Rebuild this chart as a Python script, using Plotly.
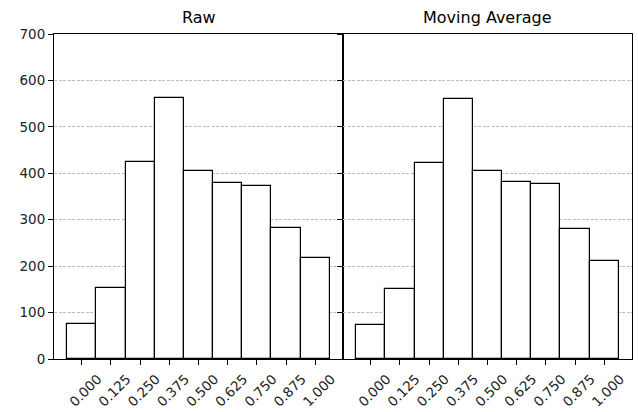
import plotly.graph_objects as go
from plotly.subplots import make_subplots

# Histogram bin centres (bin width 0.125) and counts per panel
bin_centers = [0.0, 0.125, 0.25, 0.375, 0.5, 0.625, 0.75, 0.875, 1.0]
tick_labels = ["0.000", "0.125", "0.250", "0.375", "0.500", "0.625", "0.750", "0.875", "1.000"]
raw_counts = [75, 152, 424, 562, 406, 379, 373, 282, 217]
ma_counts = [74, 151, 423, 559, 406, 382, 378, 281, 212]
panel_titles = ["Raw", "Moving Average"]
bin_width = 0.125

W, H = 638, 412
L, R, T, B = 54, 6, 34, 53

fig = make_subplots(rows=1, cols=2, shared_yaxes=True, horizontal_spacing=0)

for i, counts in enumerate([raw_counts, ma_counts], start=1):
    fig.add_trace(
        go.Bar(
            x=bin_centers,
            y=counts,
            width=[bin_width] * len(bin_centers),
            marker=dict(color="white", line=dict(color="black", width=1.2)),
            showlegend=False,
        ),
        row=1, col=i,
    )

font = dict(family="DejaVu Sans", size=13.5, color="#222222")
xr = [-0.11875, 1.11875]
for i in (1, 2):
    fig.update_xaxes(
        range=xr, tickmode="array", tickvals=bin_centers, ticktext=tick_labels,
        tickangle=-45, ticks="outside", ticklen=5, tickwidth=1, tickcolor="black",
        ticklabelshift=16, ticklabelstandoff=1, automargin=False,
        showline=True, linecolor="black", linewidth=1, mirror=True,
        showgrid=False, zeroline=False, tickfont=font, row=1, col=i,
    )
    fig.update_yaxes(
        range=[0, 700], tickmode="linear", dtick=100, ticks="outside",
        ticklen=5, tickwidth=1, tickcolor="black", automargin=False,
        showline=True, linecolor="black", linewidth=1, mirror=True,
        showgrid=True, gridcolor="#bdbdbd", griddash="3px,1.5px", gridwidth=1,
        zeroline=False, tickfont=font, showticklabels=(i == 1), row=1, col=i,
    )

split = (343 - L) / (W - L - R)
fig.update_xaxes(domain=[0, split], row=1, col=1)
fig.update_xaxes(domain=[split, 1], row=1, col=2)

for title, xc in zip(panel_titles, [split / 2, (1 + split) / 2]):
    fig.add_annotation(
        text=title, x=xc, xref="paper", y=1, yref="paper", yshift=5,
        xanchor="center", yanchor="bottom", showarrow=False,
        font=dict(family="DejaVu Sans", size=16, color="black"),
    )

fig.update_layout(
    width=W, height=H, margin=dict(l=L, r=R, t=T, b=B),
    paper_bgcolor="white", plot_bgcolor="white", bargap=0,
)

fig.write_html("out.html")
